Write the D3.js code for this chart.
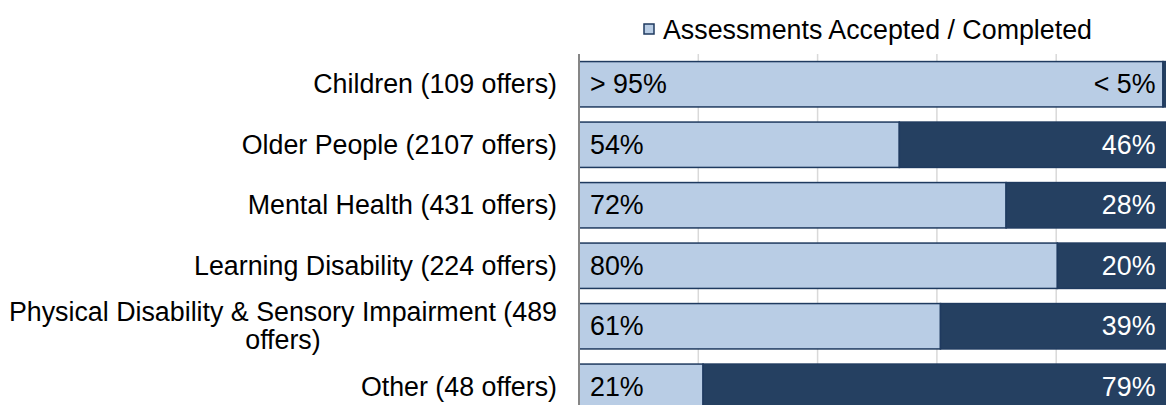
<!DOCTYPE html>
<html>
<head>
<meta charset="utf-8">
<script src="https://cdn.jsdelivr.net/npm/d3@7"></script>
<style>
    body { margin: 0; background: #fff; }
    svg { display: block; font-family: "Liberation Sans", Arial, sans-serif; }
</style>
</head>
<body>
<div id="chart"></div>
<script>
// Chart data
const categories = [
    "Children (109 offers)",
    "Older People (2107 offers)",
    "Mental Health (431 offers)",
    "Learning Disability (224 offers)",
    "Physical Disability & Sensory Impairment (489 offers)",
    "Other (48 offers)"
];
const accepted = [97.9, 53.7, 71.6, 80.2, 60.6, 20.8];
const notAccepted = [2.1, 46.3, 28.4, 19.8, 39.4, 79.2];
const acceptedLabels = ["> 95%", "54%", "72%", "80%", "61%", "21%"];
const notAcceptedLabels = ["< 5%", "46%", "28%", "20%", "39%", "79%"];
const gridTicks = [20, 40, 60, 80, 100];
const legendLabel = "Assessments Accepted / Completed";

// wrapped category labels (split where the original breaks)
const labelLines = {
    "Physical Disability & Sensory Impairment (489 offers)": ["Physical Disability & Sensory Impairment (489", "offers)"]
};

const width = 1166, height = 405;
const margin = { top: 54, left: 579 };
const plotW = 596.5, plotH = 363;
const fontSize = 26.8;

const svg = d3.select("#chart")
    .append("svg")
    .attr("width", width)
    .attr("height", height);

const x = d3.scaleLinear().domain([0, 100]).range([margin.left, margin.left + plotW]);
const y = d3.scaleBand()
    .domain(categories)
    .range([margin.top, margin.top + plotH])
    .paddingInner(0.25)
    .paddingOuter(0.125);

// vertical gridlines
svg.append("g")
    .selectAll("line")
    .data(gridTicks)
    .join("line")
    .attr("x1", d => x(d))
    .attr("x2", d => x(d))
    .attr("y1", margin.top)
    .attr("y2", margin.top + plotH)
    .attr("stroke", "#d9d9d9")
    .attr("stroke-width", 1.5);

// stacked bars
const rows = categories.map((c, i) => ({
    cat: c,
    a: accepted[i],
    b: notAccepted[i],
    la: acceptedLabels[i],
    lb: notAcceptedLabels[i]
}));

const bars = svg.append("g");
bars.selectAll("rect.acc")
    .data(rows)
    .join("rect")
    .attr("class", "acc")
    .attr("x", x(0))
    .attr("y", d => y(d.cat))
    .attr("width", d => x(d.a) - x(0))
    .attr("height", y.bandwidth())
    .attr("fill", "#b9cde5")
    .attr("stroke", "#1f3a5f")
    .attr("stroke-width", 1.5);

bars.selectAll("rect.not")
    .data(rows)
    .join("rect")
    .attr("class", "not")
    .attr("x", d => x(d.a))
    .attr("y", d => y(d.cat))
    .attr("width", d => x(d.a + d.b) - x(d.a))
    .attr("height", y.bandwidth())
    .attr("fill", "#254061")
    .attr("stroke", "#1f3a5f")
    .attr("stroke-width", 1.5);

// axis line
svg.append("line")
    .attr("x1", x(0))
    .attr("x2", x(0))
    .attr("y1", margin.top)
    .attr("y2", margin.top + plotH)
    .attr("stroke", "#868686")
    .attr("stroke-width", 2);

// data labels
svg.append("g")
    .selectAll("text")
    .data(rows)
    .join("text")
    .attr("x", x(0) + 11)
    .attr("y", d => y(d.cat) + y.bandwidth() / 2)
    .attr("dominant-baseline", "central")
    .attr("font-size", fontSize)
    .attr("fill", "#000")
    .text(d => d.la);

svg.append("g")
    .selectAll("text")
    .data(rows)
    .join("text")
    .attr("x", d => x(d.a + d.b) - 20)
    .attr("y", d => y(d.cat) + y.bandwidth() / 2)
    .attr("text-anchor", "end")
    .attr("dominant-baseline", "central")
    .attr("font-size", fontSize)
    .attr("fill", d => d.b < 5 ? "#000" : "#fff")
    .text(d => d.lb);

// category labels
const catG = svg.append("g");
categories.forEach(c => {
    const lines = labelLines[c] || [c];
    const cy = y(c) + y.bandwidth() / 2;
    const lh = 28;
    const t = catG.append("text")
        .attr("font-size", fontSize)
        .attr("fill", "#000")
        .attr("dominant-baseline", "central");
    if (lines.length === 1) {
        t.attr("x", 557).attr("y", cy).attr("text-anchor", "end").text(c);
    } else {
        // block is right aligned, lines centred within it
        const tmp = catG.append("text").attr("font-size", fontSize).text(lines[0]);
        const w = tmp.node().getComputedTextLength();
        tmp.remove();
        const centre = 557 - w / 2;
        lines.forEach((l, k) => {
            t.append("tspan")
                .attr("x", centre)
                .attr("y", cy + (k - (lines.length - 1) / 2) * lh)
                .attr("text-anchor", "middle")
                .text(l);
        });
    }
});

// legend
const legend = svg.append("g");
legend.append("rect")
    .attr("x", 644)
    .attr("y", 24)
    .attr("width", 10)
    .attr("height", 10)
    .attr("fill", "#b9cde5")
    .attr("stroke", "#1f3a5f")
    .attr("stroke-width", 1.5);
legend.append("text")
    .attr("x", 663)
    .attr("y", 30)
    .attr("dominant-baseline", "central")
    .attr("font-size", fontSize)
    .attr("fill", "#000")
    .text(legendLabel);
</script>
</body>
</html>
